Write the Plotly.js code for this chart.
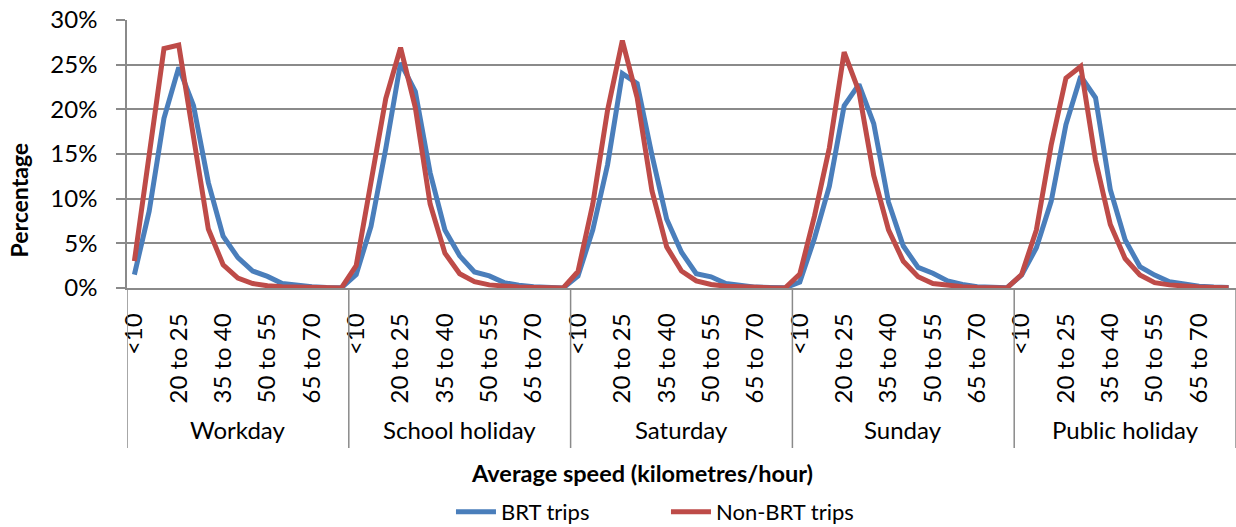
<!DOCTYPE html>
<html>
<head>
<meta charset="utf-8">
<script src="https://cdn.plot.ly/plotly-3.0.1.min.js"></script>
<style>
  html, body { margin: 0; padding: 0; background: #ffffff; }
  #chart { width: 1236px; height: 527px; }
</style>
</head>
<body>
<div id="chart"></div>
<script>
// Day types (outer category level) and speed bands (inner level)
const dayTypes = ['Workday', 'School holiday', 'Saturday', 'Sunday', 'Public holiday'];
const speedBins = ['<10', '10 to 15', '15 to 20', '20 to 25', '25 to 30', '30 to 35', '35 to 40',
                   '40 to 45', '45 to 50', '50 to 55', '55 to 60', '60 to 65', '65 to 70', '70 to 75', '>75'];

// Share of trips (%) in each speed band – BRT trips
const brtWorkday       = [1.5, 8.6, 19.0, 24.7, 20.4, 11.8, 5.8, 3.4, 1.9, 1.3, 0.5, 0.3, 0.15, 0.05, 0.02];
const brtSchoolHoliday = [1.5, 6.9, 15.6, 25.2, 22.0, 12.9, 6.5, 3.6, 1.8, 1.35, 0.6, 0.3, 0.15, 0.05, 0.0];
const brtSaturday      = [1.35, 6.5, 13.8, 24.0, 22.9, 14.9, 7.7, 4.0, 1.6, 1.25, 0.5, 0.25, 0.1, 0.05, 0.02];
const brtSunday        = [0.65, 5.6, 11.4, 20.4, 22.8, 18.4, 9.6, 4.7, 2.3, 1.65, 0.8, 0.4, 0.15, 0.05, 0.02];
const brtPublicHoliday = [1.45, 4.5, 9.7, 18.3, 23.7, 21.3, 11.0, 5.4, 2.4, 1.45, 0.7, 0.45, 0.2, 0.1, 0.05];

// Share of trips (%) in each speed band – non-BRT trips
const nonBrtWorkday       = [3.0, 15.0, 26.8, 27.2, 16.8, 6.6, 2.6, 1.1, 0.5, 0.25, 0.15, 0.1, 0.05, 0.02, 0.0];
const nonBrtSchoolHoliday = [2.5, 12.1, 21.2, 26.9, 20.2, 9.4, 3.9, 1.6, 0.7, 0.35, 0.2, 0.1, 0.05, 0.02, 0.0];
const nonBrtSaturday      = [1.85, 9.4, 19.9, 27.7, 21.3, 10.9, 4.6, 1.9, 0.8, 0.4, 0.2, 0.1, 0.05, 0.02, 0.0];
const nonBrtSunday        = [1.55, 8.1, 15.7, 26.4, 22.0, 12.6, 6.5, 3.0, 1.27, 0.5, 0.3, 0.15, 0.05, 0.02, 0.0];
const nonBrtPublicHoliday = [1.5, 6.5, 16.0, 23.5, 24.8, 14.3, 7.1, 3.3, 1.46, 0.6, 0.35, 0.2, 0.1, 0.05, 0.02];

const brtTrips    = [brtWorkday, brtSchoolHoliday, brtSaturday, brtSunday, brtPublicHoliday];
const nonBrtTrips = [nonBrtWorkday, nonBrtSchoolHoliday, nonBrtSaturday, nonBrtSunday, nonBrtPublicHoliday];

// Only every third speed band gets a label on the axis
const labelInterval = 3;

const nBins = speedBins.length;
const xPos = [], yBrt = [], yNonBrt = [], hoverText = [];
const tickVals = [], tickText = [];
dayTypes.forEach((day, g) => {
  speedBins.forEach((bin, i) => {
    const x = g * nBins + i;
    xPos.push(x);
    yBrt.push(brtTrips[g][i] / 100);
    yNonBrt.push(nonBrtTrips[g][i] / 100);
    hoverText.push(day + ', ' + bin);
    if (i % labelInterval === 0) { tickVals.push(x); tickText.push(bin); }
  });
});

const font = 'Lato, "Open Sans", sans-serif';
const gridGrey = '#8a8a8a';

const traces = [
  { x: xPos, y: yBrt, text: hoverText, name: 'BRT trips', type: 'scatter', mode: 'lines',
    line: { color: '#4a7ebb', width: 5 }, hovertemplate: '%{text}: %{y:.1%}<extra>BRT trips</extra>' },
  { x: xPos, y: yNonBrt, text: hoverText, name: 'Non-BRT trips', type: 'scatter', mode: 'lines',
    line: { color: '#be4b48', width: 5 }, hovertemplate: '%{text}: %{y:.1%}<extra>Non-BRT trips</extra>' }
];

// Vertical separators between the day-type groups, running through the label area
const axisDepth = -0.597;
const shapes = [];
for (let g = 0; g <= dayTypes.length; g++) {
  shapes.push({ type: 'line', xref: 'x', yref: 'paper', x0: g * nBins - 0.5, x1: g * nBins - 0.5,
                y0: 0, y1: axisDepth, line: { color: gridGrey, width: 1.5 } });
}

const annotations = dayTypes.map((day, g) => ({
  text: day, xref: 'x', yref: 'paper', x: g * nBins + (nBins - 1) / 2, y: -0.528,
  xanchor: 'center', yanchor: 'middle', showarrow: false, font: { family: font, size: 24, color: '#000' }
}));
annotations.push({
  text: '<b>Average speed (kilometres/hour)</b>', xref: 'paper', yref: 'paper', x: 0.464, y: -0.692,
  xanchor: 'center', yanchor: 'middle', showarrow: false, font: { family: font, size: 23.5, color: '#000' }
});
annotations.push({
  text: '<b>Percentage</b>', xref: 'paper', yref: 'paper', x: -0.097, y: 0.328, textangle: -90,
  xanchor: 'center', yanchor: 'middle', showarrow: false, font: { family: font, size: 23, color: '#000' }
});

const layout = {
  width: 1236, height: 527,
  margin: { l: 127, r: 0, t: 20, b: 239, autoexpand: false },
  paper_bgcolor: '#ffffff', plot_bgcolor: '#ffffff',
  font: { family: font, size: 22, color: '#000' },
  showlegend: true,
  legend: { orientation: 'h', x: 0.486, xanchor: 'center', y: -0.836, yanchor: 'middle',
            font: { family: font, size: 22, color: '#000' }, entrywidth: 160, itemwidth: 40 },
  xaxis: {
    range: [-0.5, xPos.length - 0.5], tickmode: 'array', tickvals: tickVals, ticktext: tickText,
    tickangle: -90, ticks: '', showgrid: false, zeroline: false, showline: true, automargin: false,
    linecolor: gridGrey, linewidth: 1.5, ticklabelstandoff: 14,
    tickfont: { family: font, size: 24, color: '#000' }
  },
  yaxis: {
    range: [0, 0.30], dtick: 0.05, tickformat: '.0%', showgrid: true, gridcolor: gridGrey, gridwidth: 1.5,
    zeroline: false, showline: true, linecolor: gridGrey, linewidth: 1.5, automargin: false,
    ticks: 'outside', ticklen: 9, tickcolor: gridGrey, tickwidth: 1.5, ticklabelstandoff: 14,
    tickfont: { family: font, size: 24, color: '#000' }
  },
  shapes: shapes,
  annotations: annotations
};

Plotly.newPlot('chart', traces, layout, { displayModeBar: false, responsive: false });
</script>
</body>
</html>
